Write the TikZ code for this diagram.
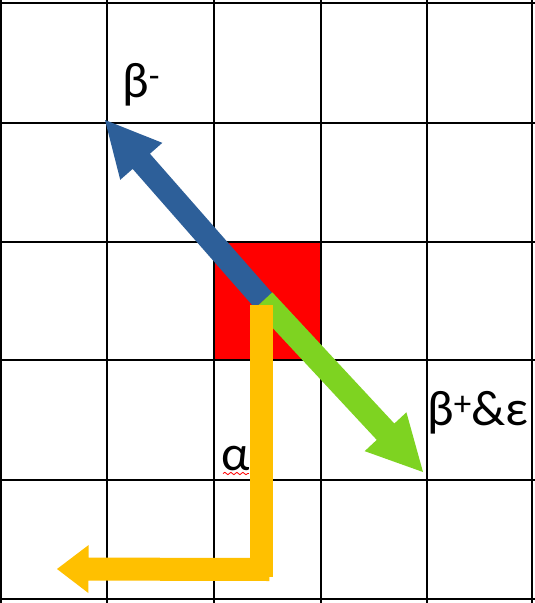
\documentclass[tikz,border=0pt]{standalone}
\usepackage{fontspec}
\setmainfont{Carlito}
\usetikzlibrary{calc,decorations.pathmorphing}
\definecolor{arrblue}{HTML}{2D5F99}
\definecolor{arrgreen}{HTML}{7ED321}
\definecolor{arryellow}{HTML}{FFC000}
\newcommand\fatarrow[6]{%
  \coordinate (fa-c) at ($(#3)!#5!(#2)$);
  \fill[#1] ($(#2)!#4!90:(#3)$) -- ($(fa-c)!#4!90:(#3)$) -- ($(fa-c)!#6!90:(#3)$) -- (#3)
    -- ($(fa-c)!#6!-90:(#3)$) -- ($(fa-c)!#4!-90:(#3)$) -- ($(#2)!#4!-90:(#3)$) -- cycle;}
\begin{document}
\begin{tikzpicture}[x=1pt,y=-1pt,
  gridline/.style={black,line width=2.6pt},
  lbl/.style={inner sep=0pt,anchor=base west,font=\fontsize{50}{60}\selectfont}]
\useasboundingbox (0,0) rectangle (535,603);
\fill[white] (0,0) rectangle (535,603);
% red square
\fill[red] (214,242) rectangle (321,360);
% grid
\foreach \x in {1,107,214,321,427,532}
  \draw[gridline] (\x,0) -- (\x,603);
\foreach \y in {3,123,242,360,480,599}
  \draw[gridline] (0,\y) -- (535,\y);
% coordinates
\coordinate (origin) at (263.5,300.5);
\coordinate (btip) at (105,120);
\coordinate (gtip) at (423,472);
\coordinate (ytop) at (261.5,305);
\coordinate (ycorner) at (261.5,577);
\coordinate (ytail) at (269.5,569.5);
\coordinate (ytip) at (57,569);
% arrows
\fatarrow{arrblue}{origin}{btip}{11.5pt}{55pt}{28pt}
\fatarrow{arrgreen}{origin}{gtip}{12pt}{55pt}{28.5pt}
\fill[arryellow] ($(ytop)+(-11.5,0)$) rectangle ($(ycorner)+(11.5,0)$);
\fatarrow{arryellow}{ytail}{ytip}{11.5pt}{31.5pt}{24pt}
% labels
\node[lbl] (bminus) at (122,97) {β\textsuperscript{-}};
\node[lbl] (bplus) at (427,425) {β\textsuperscript{+}\&ε};
\node[lbl] (alpha) at (221,470) {α};
\draw[red,line width=0.8pt,decorate,decoration={snake,amplitude=1.2pt,segment length=6pt}]
  ($(alpha.base west)+(2,3.5)$) -- ($(alpha.base east)+(-1,3.5)$);
\end{tikzpicture}
\end{document}
